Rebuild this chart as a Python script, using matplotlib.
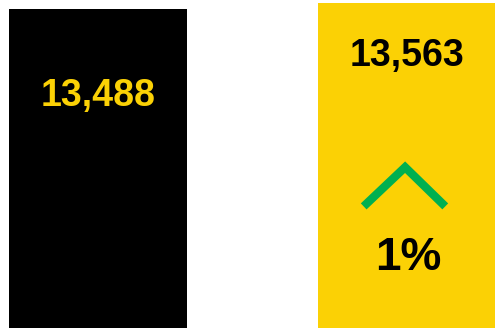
import matplotlib.pyplot as plt

labels = ['Previous', 'Current']
values = [13488, 13563]
change_text = '1%'

bar_colors = ['#000000', '#FBD105']
text_colors = ['#FBD105', '#000000']

fig = plt.figure(figsize=(4.95, 3.28), dpi=100)
ax = fig.add_axes([0, 0, 1, 1])

x = [0, 1]
ax.bar(x, values, width=0.576, color=bar_colors)
ax.set_xlim(-0.317, 1.285)
ax.set_ylim(9500, 13600)
ax.axis('off')

# value labels, offset below each bar top (pixels)
offsets = [-87, -53]
for xi, v, c, off in zip(x, values, text_colors, offsets):
    ax.annotate(f'{v:,}', (xi, v), xytext=(0, off), textcoords='offset pixels',
                ha='center', va='center', fontsize=27, fontweight='bold',
                color=c, family='Liberation Sans')

# up chevron for the change
ax.plot([0.86, 0.994, 1.124], [11020, 11510, 11020], color='#00B050',
        lw=6, solid_capstyle='butt', solid_joinstyle='miter')
ax.text(1.006, 10375, change_text, ha='center', va='center', fontsize=33,
        fontweight='bold', color='#000000', family='Liberation Sans')

fig.savefig('out.png', dpi=100)
